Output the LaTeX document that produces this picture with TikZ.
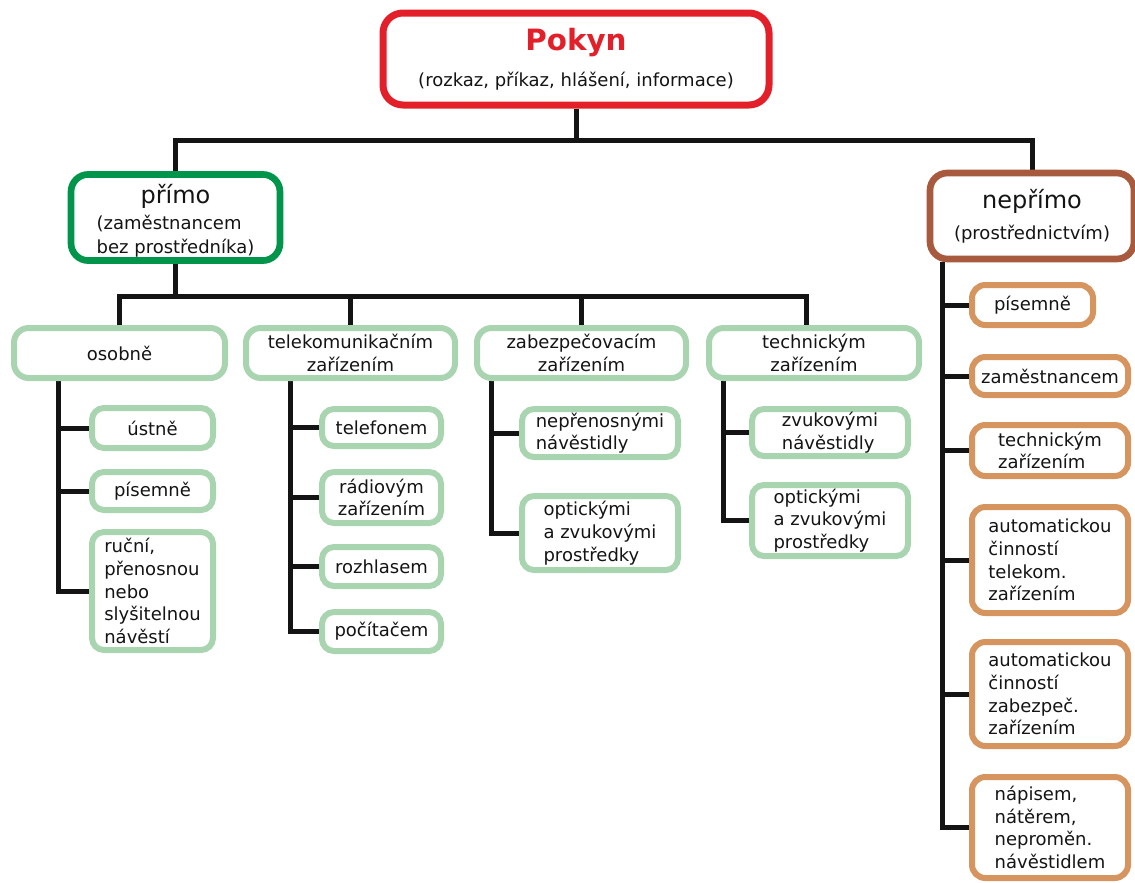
\documentclass[tikz,border=0pt]{standalone}
\usepackage{fontspec}
\setmainfont{DejaVu Sans}
\usetikzlibrary{backgrounds}
\definecolor{pred}{HTML}{E3202A}
\definecolor{pgreen}{HTML}{00954B}
\definecolor{pbrown}{HTML}{A85A3F}
\definecolor{lgreen}{HTML}{A9D4B0}
\definecolor{porange}{HTML}{D6955F}
\definecolor{ink}{HTML}{141414}
\newcommand\mybox[7]{%
  \node[#2, minimum width={(#5-#3)*0.75pt}, minimum height={(#6-#4)*0.75pt}]
    (#1) at ({(#3+#5)/2},{(#4+#6)/2}) {#7};}
\tikzset{
  base/.style={rectangle, fill=white, inner sep=0pt, text=ink,
    font=\fontsize{13.5}{17}\selectfont, align=center},
  topbox/.style={base, draw=pred, line width=5.25pt, rounded corners=15pt},
  primobox/.style={base, draw=pgreen, line width=5pt, rounded corners=13pt},
  neprimobox/.style={base, draw=pbrown, line width=5pt, rounded corners=13pt},
  midbox/.style={base, draw=lgreen, line width=4.5pt, rounded corners=11pt},
  leafbox/.style={base, draw=lgreen, line width=4.5pt, rounded corners=9pt},
  leafl/.style={leafbox, align=left},
  obox/.style={base, draw=porange, line width=4.5pt, rounded corners=10pt, align=left},
  conn/.style={draw=ink, line width=3.75pt},
}
\begin{document}
\begin{tikzpicture}[x=0.75pt,y=-0.75pt]
\useasboundingbox (0,0) rectangle (1135,882);
\coordinate (b1) at (0,140);
\coordinate (b2) at (0,296);
\coordinate (ot) at (58,0);
\coordinate (tt) at (290,0);
\coordinate (zt) at (491,0);
\coordinate (ht) at (723,0);
\coordinate (nt) at (942,0);
% boxes
\mybox{pokyn}{topbox}{383}{13}{769}{105}{{\fontsize{22}{26}\selectfont\bfseries\color{pred}Pokyn}\\[10pt](rozkaz, příkaz, hlášení, informace)}
\mybox{primo}{primobox}{71}{175}{280}{260}{\begin{tabular}{@{}c@{}}\rule{0pt}{22pt}{\fontsize{18}{20}\selectfont přímo}\\[2pt]\begin{tabular}{@{}l@{}}(zaměstnancem\\[1.5pt]bez prostředníka)\end{tabular}\end{tabular}}
\mybox{neprimo}{neprimobox}{930}{173}{1134}{259}{{\fontsize{18}{20}\selectfont nepřímo}\\[6pt](prostřednictvím)}
\mybox{osobne}{midbox}{14}{328}{225}{378}{osobně}
\mybox{tele}{midbox}{246}{328}{455}{378}{telekomunikačním\\zařízením}
\mybox{zabezp}{midbox}{477}{328}{686}{378}{zabezpečovacím\\zařízením}
\mybox{tech}{midbox}{709}{328}{919}{378}{technickým\\zařízením}
% osobne children
\mybox{ustne}{leafbox}{92}{408}{213}{448}{ústně}
\mybox{pisemne}{leafbox}{92}{472}{213}{510}{písemně}
\mybox{rucni}{leafl}{92}{532}{213}{650}{ruční,\\přenosnou\\nebo\\slyšitelnou\\návěstí}
% tele children
\mybox{telefonem}{leafbox}{322}{409}{441}{446}{telefonem}
\mybox{radiovym}{leafbox}{322}{472}{441}{523}{rádiovým\\zařízením}
\mybox{rozhlasem}{leafbox}{322}{547}{441}{586}{rozhlasem}
\mybox{pocitacem}{leafbox}{322}{612}{441}{651}{počítačem}
% zabezp children
\mybox{neprenos}{leafl}{522}{409}{678}{457}{nepřenosnými\\návěstidly}
\mybox{optz}{leafl}{522}{496}{678}{570}{optickými\\a zvukovými\\prostředky}
% tech children
\mybox{zvuk}{leafl}{752}{409}{908}{456}{zvukovými\\návěstidly}
\mybox{opth}{leafl}{752}{485}{908}{556}{optickými\\a zvukovými\\prostředky}
% neprimo children
\mybox{npis}{obox}{972}{285}{1093}{325}{písemně}
\mybox{nzam}{obox}{972}{357}{1128}{395}{zaměstnancem}
\mybox{ntech}{obox}{972}{425}{1128}{476}{technickým\\zařízením}
\mybox{nauto1}{obox}{972}{507}{1128}{613}{automatickou\\činností\\telekom.\\zařízením}
\mybox{nauto2}{obox}{972}{642}{1128}{746}{automatickou\\činností\\zabezpeč.\\zařízením}
\mybox{napis}{obox}{972}{777}{1128}{878}{nápisem,\\nátěrem,\\neproměn.\\návěstidlem}
% connectors
\begin{pgfonlayer}{background}
\draw[conn] (pokyn.south) -- (pokyn.south |- b1);
\draw[conn] (primo.north) |- (neprimo.north |- b1) -- (neprimo.north);
\draw[conn] (primo.south) -- (primo.south |- b2);
\draw[conn] (osobne.north) |- ([xshift=-6pt]tech.north |- b2) -- ([xshift=-6pt]tech.north);
\draw[conn] (tele.north) -- (tele.north |- b2);
\draw[conn] (zabezp.north) -- (zabezp.north |- b2);
% osobne
\draw[conn] (osobne.south -| ot) |- (rucni.west);
\draw[conn] (ustne.west) -- (ustne.west -| ot);
\draw[conn] (pisemne.west) -- (pisemne.west -| ot);
% tele
\draw[conn] (tele.south -| tt) |- (pocitacem.west);
\draw[conn] (telefonem.west) -- (telefonem.west -| tt);
\draw[conn] (radiovym.west) -- (radiovym.west -| tt);
\draw[conn] (rozhlasem.west) -- (rozhlasem.west -| tt);
% zabezp
\draw[conn] (zabezp.south -| zt) |- (optz.west);
\draw[conn] (neprenos.west) -- (neprenos.west -| zt);
% tech
\draw[conn] (tech.south -| ht) |- (opth.west);
\draw[conn] (zvuk.west) -- (zvuk.west -| ht);
% neprimo
\draw[conn] (neprimo.south -| nt) |- (napis.west);
\draw[conn] (npis.west) -- (npis.west -| nt);
\draw[conn] (nzam.west) -- (nzam.west -| nt);
\draw[conn] (ntech.west) -- (ntech.west -| nt);
\draw[conn] (nauto1.west) -- (nauto1.west -| nt);
\draw[conn] (nauto2.west) -- (nauto2.west -| nt);
\end{pgfonlayer}
\end{tikzpicture}
\end{document}
